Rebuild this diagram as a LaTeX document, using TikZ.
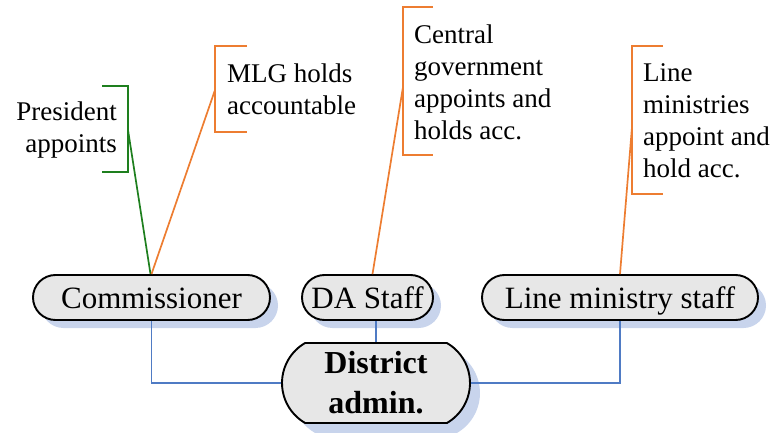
\documentclass[tikz,border=0pt]{standalone}
\usepackage{fontspec}
\setmainfont{Liberation Serif}
\usetikzlibrary{shapes.misc,shadows}
\definecolor{lgreen}{HTML}{1E7F1E}
\definecolor{lorange}{HTML}{ED7D31}
\definecolor{lblue}{HTML}{4F7BC4}
\definecolor{shade}{HTML}{C8D4EC}
\definecolor{boxfill}{HTML}{E7E7E7}
\begin{document}
\begin{tikzpicture}[x=1pt,y=-1pt,
  box/.style={rounded rectangle, draw=black, line width=1.9pt, fill=boxfill,
    inner sep=0pt, minimum height=45pt, font=\fontsize{31}{38}\selectfont,
    drop shadow={fill=shade, opacity=1, shadow xshift=#1, shadow yshift=-#1}},
  box/.default=8pt,
  smallbox/.style={box, text height=21pt, text depth=0pt},
  note/.style={inner sep=0pt, font=\fontsize{27}{32}\selectfont},
  bracket/.style={line width=1.7pt},
  link/.style={line width=1.7pt, draw=lblue}]
\useasboundingbox (0,0) rectangle (782,433);

% boxes
\node[smallbox, minimum width=237pt] (com) at (151.5,297.5) {Commissioner};
\node[smallbox, minimum width=131pt] (da) at (367.5,297.5) {DA Staff};
\node[smallbox, minimum width=276pt] (lms) at (620,297.5) {Line ministry staff};
\node[box=10pt, rounded rectangle arc length=120, minimum width=188pt,
  minimum height=80pt, font=\bfseries\fontsize{32}{40}\selectfont,
  align=center] (dist) at (376,383) {District\\admin.};

% notes
\node[note, anchor=east, align=right] (pres) at (117,130) {President\\appoints};
\node[note, anchor=west, align=left] (mlg) at (227,89) {MLG holds\\accountable};
\node[note, anchor=west, align=left] (cg) at (414,82) {Central\\government\\appoints and\\holds acc.};
\node[note, anchor=west, align=left] (lm) at (643,121) {Line\\ministries\\appoint and\\hold acc.};

% brackets
\draw[bracket, draw=lgreen] (102,86) -- (128,86) -- (128,172) -- (102,172);
\draw[bracket, draw=lorange] (247,46) -- (215,46) -- (215,132) -- (247,132);
\draw[bracket, draw=lorange] (433,7) -- (403,7) -- (403,155) -- (433,155);
\draw[bracket, draw=lorange] (663,46) -- (632,46) -- (632,194) -- (663,194);
\coordinate (presA) at (128,130);
\coordinate (mlgA) at (215,90);
\coordinate (cgA) at (403,87);
\coordinate (lmA) at (632,127);

% connectors
\draw[bracket, draw=lgreen] (presA) -- ([xshift=-1pt]com.north);
\draw[bracket, draw=lorange] (mlgA) -- (com.north);
\draw[bracket, draw=lorange] (cgA) -- ([xshift=5pt]da.north);
\draw[bracket, draw=lorange] (lmA) -- (lms.north);

\draw[link] (com.south) |- (dist.west);
\draw[link] (da.south -| dist.north) -- (dist.north);
\draw[link] (lms.south) |- (dist.east);
\end{tikzpicture}
\end{document}
